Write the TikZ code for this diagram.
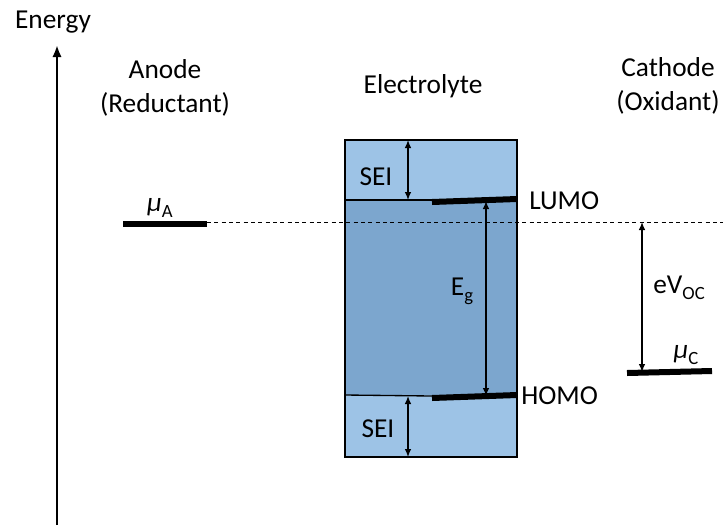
\documentclass[tikz,border=0pt]{standalone}
\usepackage{fontspec}
\setmainfont{Carlito}
\usetikzlibrary{arrows.meta}

\definecolor{seiblue}{RGB}{157,195,230}
\definecolor{gapblue}{RGB}{124,166,206}

\newcommand{\lowsub}[1]{\raisebox{-4.5pt}{\fontsize{14}{14}\selectfont #1}}

\begin{document}
\begin{tikzpicture}[
  x=0.75pt, y=-0.75pt,
  font=\fontsize{20.5}{25.5}\selectfont,
  level/.style={line width=4.5pt},
  span/.style={{Latex[length=6pt,width=5pt]}-{Latex[length=6pt,width=5pt]}, line width=1pt},
  txt/.style={inner sep=0pt, align=center}
]
\useasboundingbox (0,0) rectangle (723,525);

% energy axis
\coordinate (axisfoot) at (57,525);
\coordinate (axistop) at (57,45);
\draw[-{Latex[length=9pt,width=7pt]}, line width=2.2pt] (axisfoot) -- (axistop);
\node[txt] (energy) at (53,22) {Energy};

% column headers
\node[txt] (anode) at (165,88) {Anode\\(Reductant)};
\node[txt] (electrolyte) at (423,86) {Electrolyte};
\node[txt] (cathode) at (668,86) {Cathode\\(Oxidant)};

% electrolyte window
\coordinate (boxtl) at (345,140);
\coordinate (boxbr) at (517,457);
\coordinate (lumoL) at (345,200);
\coordinate (homoR) at (517,395);
\fill[seiblue] (boxtl) rectangle (boxbr);
\fill[gapblue] (lumoL) rectangle (homoR);
\draw[line width=1pt] (345,200) -- (432,200);
\draw[line width=1pt] (345,395) -- (432,396);
\draw[line width=1.6pt] (boxtl) rectangle (boxbr);

% levels
\coordinate (lumoA) at (432,202);
\coordinate (lumoB) at (517,199);
\coordinate (homoA) at (432,398);
\coordinate (homoB) at (517,395);
\draw[level] (lumoA) -- (lumoB);
\draw[level] (homoA) -- (homoB);
\node[txt, anchor=west] (lumo) at (529,201) {LUMO};
\node[txt, anchor=west] (homo) at (521,396) {HOMO};

\coordinate (muAL) at (123,224);
\coordinate (muAR) at (207,224);
\draw[level] (muAL) -- (muAR);
\node[txt] (muA) at (160,208) {\textit{μ}\lowsub{A}};

\coordinate (muCL) at (627,373);
\coordinate (muCR) at (712,371);
\draw[level] (muCL) -- (muCR);
\node[txt] (muC) at (686,355) {\textit{μ}\lowsub{C}};

% reference line at the anode level
\coordinate (dashend) at (723,222);
\draw[dashed, dash pattern=on 3pt off 2.5pt, line width=0.6pt] (207,222) -- (dashend);

% spans
\draw[span] (408,140) -- (408,200);
\node[txt] (seitop) at (376,177) {SEI};
\draw[span] (408,396) -- (408,457);
\node[txt] (seibot) at (378,429) {SEI};
\draw[span] (486,201) -- (486,396);
\node[txt] (gap) at (462,291) {E\lowsub{g}};
\draw[span] (642,222) -- (642,372);
\node[txt] (voc) at (679,288) {eV\lowsub{OC}};

\end{tikzpicture}
\end{document}
